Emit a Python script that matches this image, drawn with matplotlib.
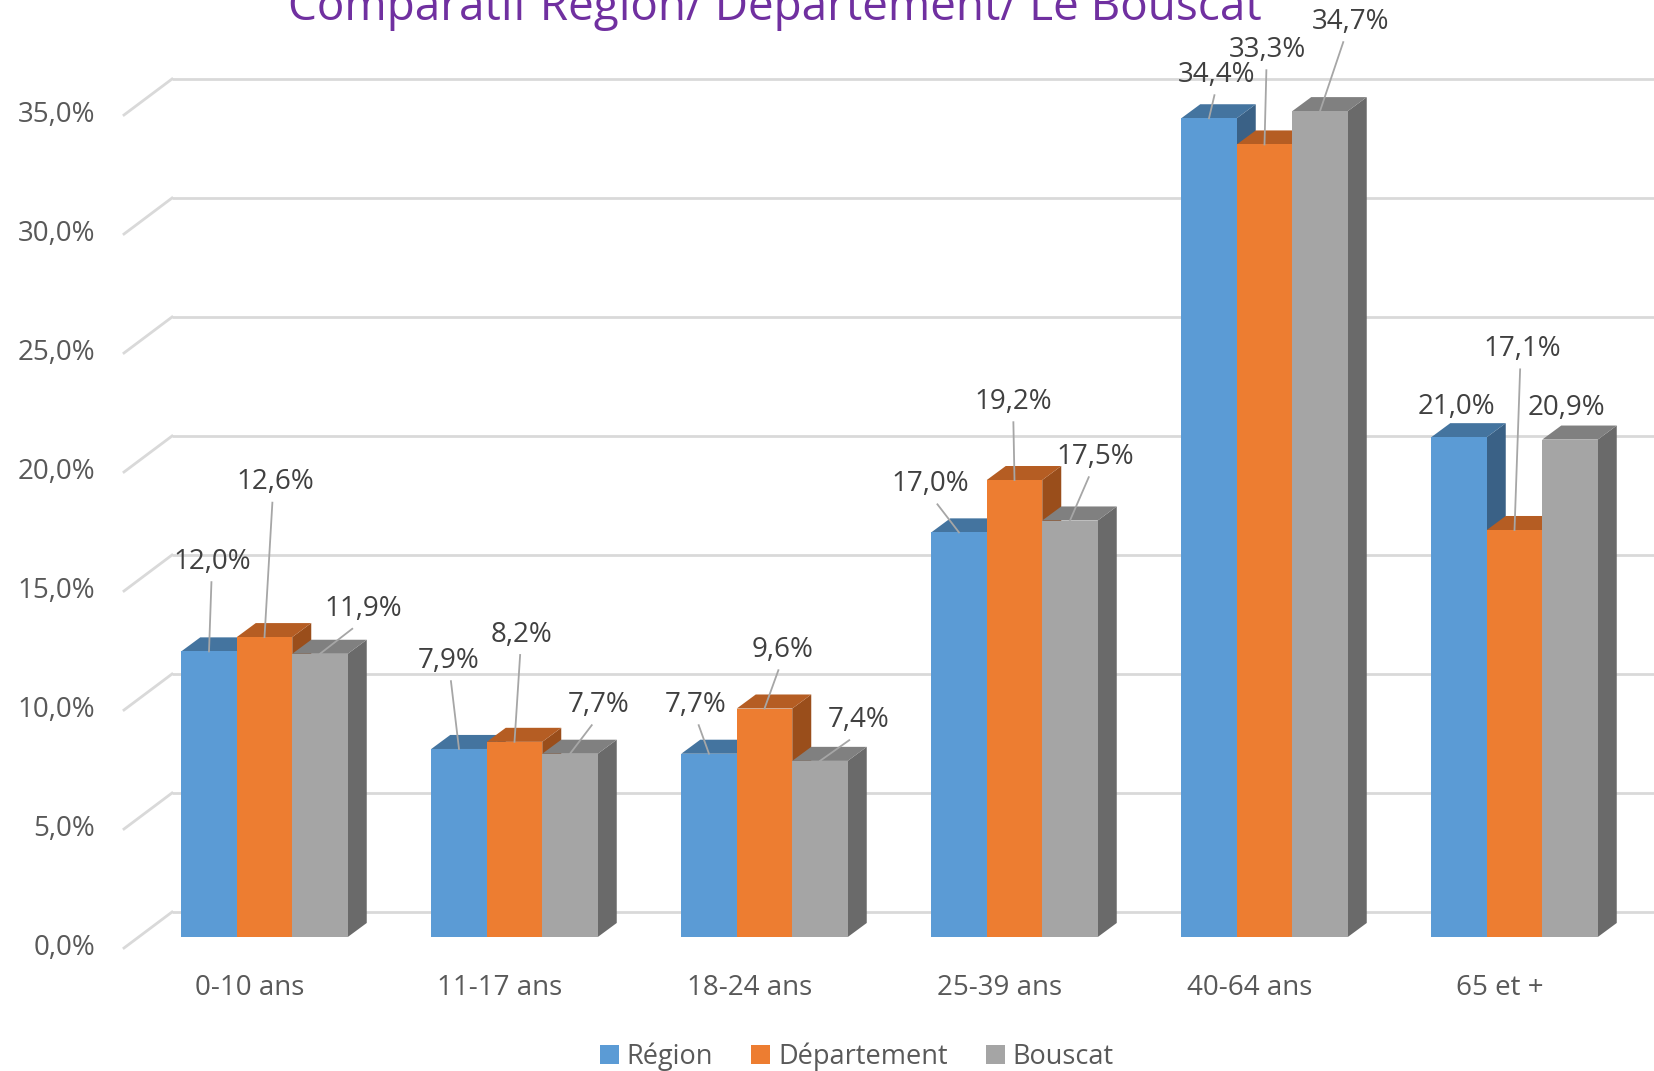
import matplotlib
matplotlib.use("Agg")
import matplotlib.pyplot as plt
from matplotlib.patches import Polygon, Patch
import numpy as np

# ---------------- data ----------------
categories = ["0-10 ans", "11-17 ans", "18-24 ans", "25-39 ans", "40-64 ans", "65 et +"]
region = [12.0, 7.9, 7.7, 17.0, 34.4, 21.0]
departement = [12.6, 8.2, 9.6, 19.2, 33.3, 17.1]
bouscat = [11.9, 7.7, 7.4, 17.5, 34.7, 20.9]
series_names = ["Région", "Département", "Bouscat"]
y_ticks = [0, 5, 10, 15, 20, 25, 30, 35]
title = "Comparatif Région/ Département/ Le Bouscat"

# label offsets (relative to bar top centre, in data units) – placement only
label_offsets = [
    [(0.013, 3.76), (0.042, 6.5), (0.172, 1.9)],
    [(-0.043, 3.7), (0.03, 4.5), (0.116, 2.05)],
    [(-0.055, 2.05), (0.074, 2.46), (0.156, 1.72)],
    [(-0.115, 2.03), (-0.006, 3.28), (0.10, 2.67)],
    [(0.029, 1.82), (0.01, 3.97), (0.124, 3.75)],
    [(-0.011, 1.27), (0.03, 7.6), (-0.016, 1.33)],
]

# ---------------- style ----------------
FONT = ["Open Sans", "DejaVu Sans"]
plt.rcParams["font.family"] = FONT
front_cols = ["#5B9BD5", "#ED7D31", "#A5A5A5"]
top_cols = ["#44749F", "#B55D23", "#808080"]
side_cols = ["#3A6186", "#9A4E1B", "#6A6A6A"]
grid_col = "#D9D9D9"
text_col = "#595959"
label_col = "#404040"

W = 0.222          # bar width (category units)
DX, DY = 0.076, 0.59   # bar depth offsets
BACK_DY = 1.05         # back wall offset
BACK_X = -0.37         # back wall start
FRONT_X, FRONT_DY = -0.562, -0.462

fig = plt.figure(figsize=(16.54, 10.71), dpi=100)
ax = fig.add_axes([0, 0, 1, 1])
ax.set_xlim(-1.058, 5.558)
ax.set_ylim(-5.63, 39.37)
ax.axis("off")

# gridlines (back wall + floor diagonals)
for t in y_ticks:
    ax.plot([BACK_X, 5.6], [t + BACK_DY, t + BACK_DY], color=grid_col, lw=2, zorder=1,
            solid_capstyle="butt")
    ax.plot([FRONT_X, BACK_X], [t + FRONT_DY, t + BACK_DY], color=grid_col, lw=2, zorder=1)
    ax.text(-0.678, t + FRONT_DY, f"{t:.1f}%".replace(".", ","), ha="right", va="center",
            fontsize=20, color=text_col)

data = [region, departement, bouscat]
offsets = [-W, 0.0, W]
x = np.arange(len(categories))

for i in range(len(categories)):
    for s in range(3):
        v = data[s][i]
        xc = x[i] + offsets[s]
        xl, xr = xc - W / 2, xc + W / 2
        z = 3 + s * 0.1
        ax.bar(xc, v, width=W, color=front_cols[s], zorder=z + 0.05, linewidth=0)
        top = Polygon([(xl, v), (xr, v), (xr + DX, v + DY), (xl + DX, v + DY)],
                      closed=True, facecolor=top_cols[s], edgecolor="none", zorder=z)
        side = Polygon([(xr, 0), (xr, v), (xr + DX, v + DY), (xr + DX, DY)],
                       closed=True, facecolor=side_cols[s], edgecolor="none", zorder=z)
        ax.add_patch(side)
        ax.add_patch(top)
        # data label
        ox, oy = label_offsets[i][s]
        lx, ly = xc + ox, v + oy
        ax.text(lx, ly, f"{v:.1f}%".replace(".", ","), ha="center", va="center",
                fontsize=20, color=label_col, zorder=10)
        if oy > 1.5:
            sx = lx - 0.25 * ox
            ax.plot([sx, xc], [ly - 0.85, v], color="#A6A6A6", lw=1.3, zorder=9)

for i, c in enumerate(categories):
    ax.text(x[i] - 0.06, -2.14, c, ha="center", va="center", fontsize=20, color=text_col)

fig.text(0.4686, 0.981, title, ha="center", va="baseline", fontsize=33, color="#7030A0")

handles = [Patch(facecolor=front_cols[s], edgecolor="none") for s in range(3)]
fig.legend(handles, series_names, loc="center", bbox_to_anchor=(0.518, 0.013), ncol=3,
           frameon=False, fontsize=19.5, handlelength=0.7, handleheight=0.7,
           handletextpad=0.3, columnspacing=1.4, labelcolor=text_col)

fig.savefig("out.png", dpi=100)
